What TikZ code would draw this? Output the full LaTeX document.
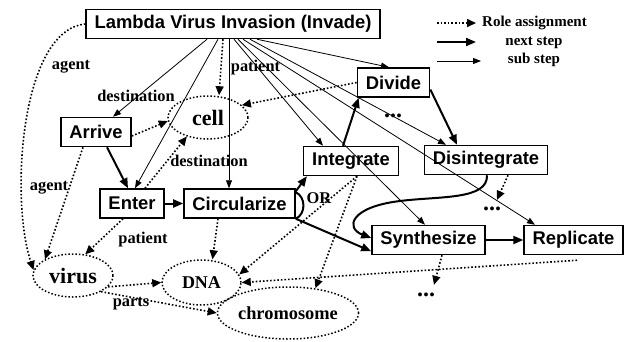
\documentclass[tikz,border=0pt]{standalone}
\usepackage{fontspec}
\setmainfont{Liberation Serif}
\setsansfont{Liberation Sans}
\usetikzlibrary{arrows.meta,shapes.geometric}

\tikzset{
    stepbox/.style={draw, line width=1.5pt, inner xsep=8.5pt, inner ysep=0pt, minimum height=29pt,
        font=\sffamily\bfseries\fontsize{18.4}{20}\selectfont},
    thing/.style={draw, ellipse, dotted, line width=1.5pt, inner sep=0pt},
    role/.style={dotted, line width=1.6pt, -{Triangle[length=9pt,width=8pt]}},
    nextstep/.style={line width=2pt, -{Triangle[length=10pt,width=8pt]}},
    substep/.style={line width=0.8pt, -{Triangle[length=8pt,width=6pt]}},
    lbl/.style={font=\bfseries\fontsize{16.4}{18}\selectfont, inner sep=0pt},
    legtext/.style={font=\bfseries\fontsize{15}{17}\selectfont, inner sep=0pt},
    moredots/.style={font=\bfseries\fontsize{24}{24}\selectfont, inner sep=0pt}
}

\begin{document}
\begin{tikzpicture}[x=1pt,y=-1pt]
                \useasboundingbox (0,0) rectangle (624,341);

                \node[stepbox] (Invade) at (233,24) {Lambda Virus Invasion (Invade)};
                \node[stepbox] (Arrive) at (96,132) {Arrive};
                \node[stepbox] (Enter) at (132,203.5) {Enter};
                \node[stepbox] (Circularize) at (239.5,203.5) {Circularize};
                \node[stepbox] (Integrate) at (351,161) {Integrate};
                \node[stepbox] (Divide) at (393.5,82.5) {Divide};
                \node[stepbox] (Disintegrate) at (486,160) {Disintegrate};
                \node[stepbox] (Synthesize) at (428.5,240) {Synthesize};
                \node[stepbox] (Replicate) at (573.5,240) {Replicate};

                \node[thing, minimum width=80pt, minimum height=43pt, font=\bfseries\fontsize{22}{24}\selectfont] (cell) at (208,117.5) {cell};
                \node[thing, minimum width=80pt, minimum height=43pt, font=\bfseries\fontsize{22}{24}\selectfont] (virus) at (73,275.5) {virus};
                \node[thing, minimum width=79pt, minimum height=45pt, font=\bfseries\fontsize{18}{20}\selectfont] (DNA) at (201.5,282.5) {DNA};
                \node[thing, minimum width=120pt, minimum height=52pt, font=\bfseries\fontsize{18.4}{20}\selectfont] (chromosome) at (288,313) {chromosome};

                \node[moredots] (divdots) at (393,116) {...};
                \node[moredots] (disdots) at (492,209) {...};
                \node[moredots] (syndots) at (426,295) {...};

                \node[lbl] (agentA) at (71,67) {agent};
                \node[lbl] (destA) at (136,96) {destination};
                \node[lbl] (patientA) at (255.5,68) {patient};
                \node[lbl] (destB) at (209,161) {destination};
                \node[lbl] (agentB) at (49,188) {agent};
                \node[lbl] (patientB) at (143,240) {patient};
                \node[lbl] (parts) at (131,304) {parts};
                \node[lbl] (orlabel) at (319,198) {OR};

                \draw[substep] ([xshift=-26pt]Invade.south) -- ([xshift=17pt]Arrive.north);
                \draw[substep] ([xshift=-15pt]Invade.south) -- ([xshift=3pt]Enter.north);
                \draw[substep] ([xshift=-4pt]Invade.south) -- ([xshift=-10.5pt]Circularize.north);
                \draw[substep] ([xshift=1pt]Invade.south) -- ([xshift=-28pt]Integrate.north);
                \draw[substep] ([xshift=5pt]Invade.south) -- ([xshift=-3.5pt]Synthesize.north);
                \draw[substep] ([xshift=10pt]Invade.south) -- ([xshift=-38.5pt]Replicate.north);
                \draw[substep] ([xshift=17pt]Invade.south) -- ([xshift=-40pt]Disintegrate.north);
                \draw[substep] ([xshift=24pt]Invade.south) -- ([xshift=-4.5pt]Divide.north);

                \draw[nextstep] ([xshift=11pt]Arrive.south) -- ([xshift=-4pt]Enter.north);
                \draw[nextstep] (Enter.east) -- (Circularize.west);
                \draw[nextstep] ([yshift=-3pt]Circularize.north east) -- ([xshift=4pt]Integrate.south west);
                \draw[nextstep] (Circularize.south east) -- ([yshift=4pt]Synthesize.south west);
                \draw[nextstep] ([xshift=-8pt]Integrate.north) -- ([xshift=2pt]Divide.south west);
                \draw[nextstep] ([yshift=-7pt]Divide.east) -- ([xshift=-29pt]Disintegrate.north);
                \draw[nextstep] ([xshift=1pt]Disintegrate.south) .. controls (488,200) and (440,196) .. (400,201)
                    .. controls (350,207) and (345,228) .. ([yshift=2pt]Synthesize.west);
                \draw[nextstep] (Synthesize.east) -- (Replicate.west);
                \draw[line width=2pt] ([yshift=-4pt]Circularize.north east) .. controls (306,197) and (306,214) .. (Circularize.south east);

                \draw[role] (Invade.west) .. controls (20,30) and (10,200) .. (virus.172);
                \draw[role] ([xshift=-10pt]Invade.south) -- ([xshift=11pt]cell.north);
                \draw[role] (Divide.west) -- (cell.20);
                \draw[role] ([yshift=-4pt]Arrive.east) -- (cell.185);
                \draw[role] ([xshift=13pt]Enter.north) -- (cell.222);
                \draw[role] ([xshift=-13pt]Arrive.south) -- (virus.150);
                \draw[role] ([xshift=-9pt]Enter.south) -- (virus.60);
                \draw[role] ([xshift=-21.5pt]Circularize.south) -- ([xshift=11pt]DNA.north);
                \draw[role] ([xshift=6pt]Integrate.south) -- (DNA.12);
                \draw[role] ([xshift=6pt]Integrate.south) -- (chromosome.42);
                \draw[role] ([xshift=3.5pt,yshift=-5pt]Replicate.south) -- (DNA.east);
                \draw[role] (virus.-18) -- (DNA.west);
                \draw[role] (virus.-30) -- (chromosome.west);
                \draw[role] ([xshift=22pt]Disintegrate.south) -- ([xshift=5pt,yshift=7pt]disdots.north);
                \draw[role] ([xshift=13.5pt]Synthesize.south) -- ([xshift=8pt,yshift=8pt]syndots.north);

                \coordinate (roleS) at (437,23);
                \coordinate (roleE) at (476,23);
                \coordinate (nextS) at (437,42);
                \coordinate (nextE) at (476,42);
                \coordinate (subS) at (437,61);
                \coordinate (subE) at (481,61);
                \node[legtext, anchor=west] (legRole) at (482,23) {Role assignment};
                \node[legtext] (legNext) at (534,43) {next step};
                \node[legtext] (legSub) at (534,60) {sub step};
                \draw[role] (roleS) -- (roleE);
                \draw[nextstep] (nextS) -- (nextE);
                \draw[substep] (subS) -- (subE);
            \end{tikzpicture}
\end{document}
